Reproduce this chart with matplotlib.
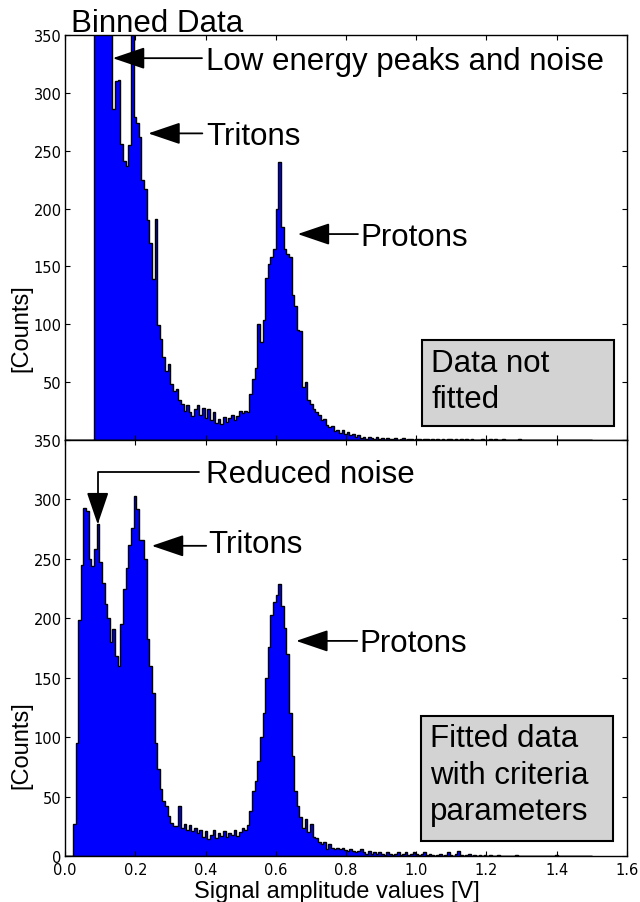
import numpy as np
import matplotlib
matplotlib.use("Agg")
import matplotlib.pyplot as plt
from matplotlib.patches import Rectangle
from matplotlib.ticker import FuncFormatter

# Signal amplitude range covered by the histogram bins [V]
amp_min, amp_max = 0.0, 1.5

# Counts per bin, raw binned data (before the selection criteria)
raw_counts = [
    0, 0, 0, 0, 0, 0, 0, 0, 0, 0,
    0, 900, 780, 660, 560, 480, 420, 370, 286, 310,
    311, 256, 241, 237, 255, 380, 279, 274, 262, 225,
    217, 190, 170, 139, 191, 99, 87, 72, 60, 66,
    48, 42, 44, 35, 31, 25, 30, 24, 21, 27,
    30, 22, 28, 19, 27, 17, 24, 15, 18, 14,
    20, 16, 19, 22, 17, 21, 25, 23, 25, 24,
    40, 53, 62, 100, 85, 104, 140, 152, 158, 165,
    200, 240, 184, 165, 161, 158, 125, 116, 95, 94,
    46, 50, 35, 31, 27, 24, 22, 17, 18, 13,
    11, 12, 8, 9, 6, 9, 5, 7, 4, 5,
    3, 4, 2, 3, 1, 3, 2, 1, 3, 1,
    2, 0, 2, 1, 1, 2, 0, 1, 2, 0,
    1, 1, 0, 1, 1, 0, 1, 1, 0, 1,
    0, 1, 0, 1, 0, 1, 1, 0, 1, 0,
    1, 0, 1, 0, 1, 0, 0, 0, 1, 0,
    0, 1, 0, 1, 0, 0, 1, 0, 0, 0,
    0, 0, 1, 0, 0, 0, 0, 0, 0, 0,
    0, 0, 0, 0, 0, 0, 0, 0, 0, 0,
    0, 0, 0, 0, 0, 0, 0, 0, 0, 0,
]

# Counts per bin after fitting with the criteria parameters
fitted_counts = [
    0, 0, 0, 27, 95, 199, 245, 293, 290, 250,
    244, 258, 279, 247, 230, 212, 200, 180, 191, 168,
    160, 195, 225, 242, 262, 276, 303, 292, 266, 266,
    250, 183, 160, 137, 95, 73, 56, 46, 42, 34,
    28, 25, 25, 42, 24, 27, 22, 26, 21, 24,
    19, 22, 16, 21, 14, 18, 22, 15, 19, 17,
    21, 16, 19, 18, 22, 17, 20, 24, 22, 26,
    38, 55, 63, 80, 100, 120, 150, 176, 203, 214,
    220, 229, 210, 192, 170, 120, 84, 55, 42, 33,
    24, 31, 20, 27, 16, 15, 12, 10, 12, 6,
    10, 7, 6, 7, 6, 7, 5, 4, 6, 4,
    3, 4, 6, 3, 2, 4, 2, 3, 2, 3,
    2, 1, 3, 2, 1, 2, 3, 1, 2, 3,
    1, 2, 3, 2, 1, 2, 3, 1, 2, 1,
    0, 1, 2, 0, 1, 3, 1, 0, 2, 4,
    1, 0, 1, 2, 0, 1, 0, 1, 0, 1,
    0, 1, 0, 0, 1, 0, 0, 0, 0, 0,
    0, 1, 0, 0, 0, 0, 0, 0, 0, 0,
    0, 0, 0, 0, 0, 0, 1, 0, 0, 0,
    0, 0, 0, 0, 0, 0, 0, 0, 0, 0,
]

x_ticks = [0.0, 0.2, 0.4, 0.6, 0.8, 1.0, 1.2, 1.4, 1.6]
y_ticks = [0, 50, 100, 150, 200, 250, 300, 350]

TEXT_FONT = ["Liberation Sans", "DejaVu Sans"]
TEXT_SIZE = 22.5

fig = plt.figure(figsize=(6.4, 9.03), dpi=100)
ax_top = fig.add_axes([0.1016, 0.5116, 0.878, 0.4485])
ax_bot = fig.add_axes([0.1016, 0.0509, 0.878, 0.4607])

edges = np.linspace(amp_min, amp_max, len(raw_counts) + 1)
centers = 0.5 * (edges[:-1] + edges[1:])

for ax, counts in ((ax_top, raw_counts), (ax_bot, fitted_counts)):
    ax.hist(centers, bins=edges, weights=counts, histtype="stepfilled",
            facecolor="#0000ff", edgecolor="black", linewidth=1.0)
    ax.set_xlim(0, 1.6)
    ax.set_ylim(0, 350)
    ax.set_xticks(x_ticks)
    ax.set_yticks(y_ticks)
    ax.tick_params(direction="in", top=True, right=True, length=3.6,
                   width=0.8, labelsize=10.5)
    ax.tick_params(axis="y", pad=2.5)
    ax.tick_params(axis="x", pad=4.5)
    for sp in ax.spines.values():
        sp.set_linewidth(1.0)
    ax.set_ylabel("[Counts]", fontsize=17, family=TEXT_FONT)

ax_top.yaxis.set_label_coords(-0.0587, 0.279)
ax_bot.yaxis.set_label_coords(-0.0587, 0.269)

ax_top.tick_params(labelbottom=False)
ax_top.yaxis.set_major_formatter(FuncFormatter(lambda v, p: "" if v == 0 else f"{v:g}"))
ax_bot.xaxis.set_major_formatter(FuncFormatter(lambda v, p: f"{v:.1f}"))

ax_bot.set_xlabel("Signal amplitude values [V]", fontsize=17, family=TEXT_FONT)
ax_bot.xaxis.set_label_coords(0.483, -0.057)

ax_top.text(0.010, 1.010, "Binned Data", transform=ax_top.transAxes,
            fontsize=TEXT_SIZE, family=TEXT_FONT, ha="left", va="baseline")

ARROW = dict(arrowstyle="-|>,head_length=1.0,head_width=0.34",
             mutation_scale=20, fc="black", ec="black", lw=1.3,
             shrinkA=0, shrinkB=0)


def pointer(ax, text, text_xy, line_start, tip_xy, connection=None):
    """Label at text_xy (baseline) with an arrow from line_start to tip_xy."""
    ax.text(text_xy[0], text_xy[1], text, fontsize=TEXT_SIZE,
            family=TEXT_FONT, ha="left", va="baseline")
    props = dict(ARROW)
    if connection is not None:
        props["connectionstyle"] = connection
    ax.annotate("", xy=tip_xy, xytext=line_start, xycoords="data",
                textcoords="data", arrowprops=props)


# Raw data markers
pointer(ax_top, "Low energy peaks and noise", (0.401, 320.7),
        (0.390, 330), (0.136, 330))
pointer(ax_top, "Tritons", (0.403, 255.8), (0.391, 265), (0.237, 265))
pointer(ax_top, "Protons", (0.842, 168.5), (0.834, 178), (0.6625, 178))

# Fitted data markers
pointer(ax_bot, "Reduced noise", (0.400, 314.5), (0.3815, 323), (0.093, 279),
        connection="angle,angleA=0,angleB=90,rad=0")
pointer(ax_bot, "Tritons", (0.4085, 255.7), (0.402, 261), (0.247, 261))
pointer(ax_bot, "Protons", (0.839, 172.5), (0.832, 181), (0.658, 181))


def note_box(ax, lines, box, x_text, baselines):
    x0, y0, x1, y1 = box
    ax.add_patch(Rectangle((x0, y0), x1 - x0, y1 - y0, transform=ax.transAxes,
                           facecolor="#d3d3d3", edgecolor="black",
                           linewidth=1.5, zorder=5))
    for line, yb in zip(lines, baselines):
        ax.text(x_text, yb, line, transform=ax.transAxes, fontsize=TEXT_SIZE,
                family=TEXT_FONT, ha="left", va="baseline", zorder=6)


note_box(ax_top, ["Data not", "fitted"], (0.635, 0.035, 0.977, 0.247),
         0.652, [0.171, 0.0807])
note_box(ax_bot, ["Fitted data", "with criteria", "parameters"],
         (0.633, 0.036, 0.975, 0.336), 0.650, [0.2645, 0.1767, 0.0887])

fig.savefig("out.png", dpi=100)
